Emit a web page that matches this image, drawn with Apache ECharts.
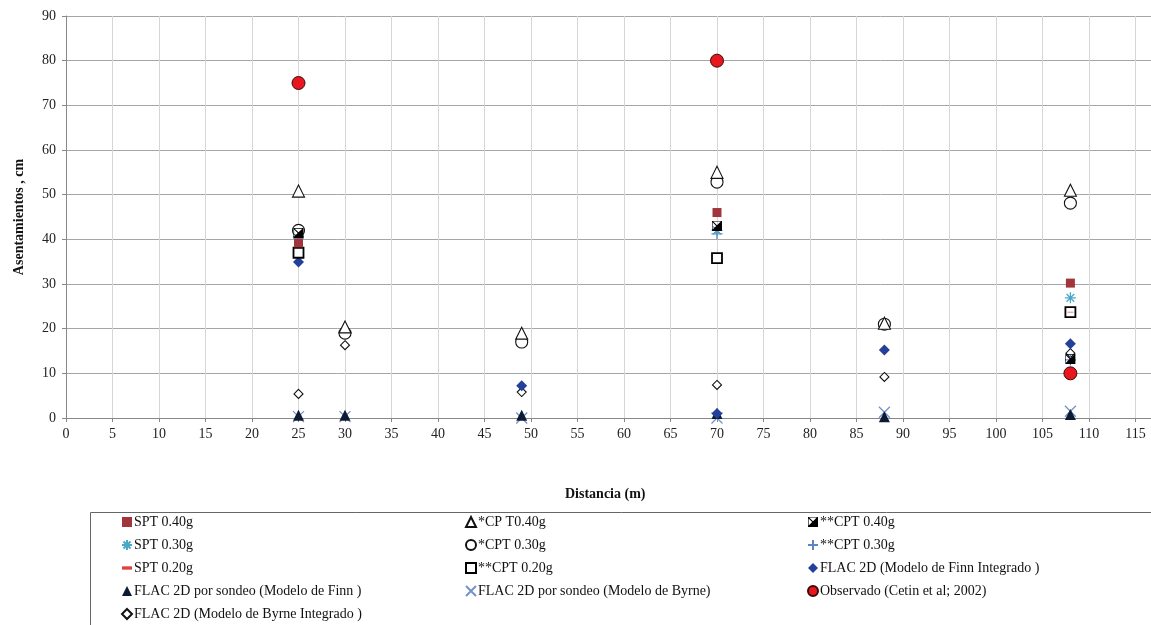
<!DOCTYPE html>
<html>
<head>
<meta charset="utf-8">
<script src="https://cdn.jsdelivr.net/npm/echarts@6/dist/echarts.min.js"></script>
<style>
html,body{margin:0;padding:0;background:#fff;overflow:hidden;}
#chart{width:1151px;height:625px;}
</style>
</head>
<body>
<div id="chart"></div>
<script>
// ---- data ----
const distancias = [25, 30, 49, 70, 88, 108];
const spt040      = [39.2, null, null, 46, null, 30.2];
const cpt040a     = [50.8, 20.4, 19, 55, 21.2, 51];
const cpt040b     = [41.4, null, null, 43, null, 13.2];
const spt030      = [40.3, null, null, 42, null, 26.9];
const cpt030a     = [42, 19, 17, 52.8, 21, 48.1];
const cpt030b     = [40.6, null, null, 41.2, null, 13];
const spt020      = [38.5, null, null, 41.5, null, 23.7];
const cpt020b     = [37, null, null, 35.8, null, 23.7];
const finnInt     = [34.9, null, 7.2, 1, 15.2, 16.6];
const finnSondeo  = [0.6, 0.6, 0.6, 1, 0.3, 0.8];
const byrneSondeo = [0.3, 0.3, 0, 0, 1.3, 1.5];
const observado   = [75, null, null, 80, null, 10];
const byrneInt    = [5.4, 16.3, 5.8, 7.4, 9.2, 14.5];
const yTicks = [0, 10, 20, 30, 40, 50, 60, 70, 80, 90];

const names = {
  spt040: 'SPT 0.40g',
  cpt040a: '*CP T0.40g',
  cpt040b: '**CPT 0.40g',
  spt030: 'SPT 0.30g',
  cpt030a: '*CPT 0.30g',
  cpt030b: '**CPT 0.30g',
  spt020: 'SPT 0.20g',
  cpt020b: '**CPT 0.20g',
  finnInt: 'FLAC 2D (Modelo de Finn Integrado )',
  finnSondeo: 'FLAC 2D por sondeo (Modelo de Finn )',
  byrneSondeo: 'FLAC 2D por sondeo (Modelo de Byrne)',
  observado: 'Observado (Cetin et al; 2002)',
  byrneInt: 'FLAC 2D (Modelo de Byrne Integrado )'
};

function pts(vals) {
  const out = [];
  vals.forEach((v, i) => { if (v !== null) out.push([distancias[i], v]); });
  return out;
}

const FONT = '"Liberation Serif", "Times New Roman", serif';

function mk(name, vals, symbol, size, itemStyle) {
  itemStyle.opacity = 1;
  return {
    name: name, type: 'scatter', data: pts(vals),
    symbol: symbol, symbolSize: size, symbolKeepAspect: true,
    itemStyle: itemStyle, emphasis: {disabled: true}, z: 3
  };
}

const P_ASTER = 'path://M0,5L10,5M5,0L5,10M1.5,1.5L8.5,8.5M8.5,1.5L1.5,8.5';
const P_PLUS = 'path://M0,5L10,5M5,0L5,10';
const P_X = 'path://M0,0L10,10M10,0L0,10';
const P_DASH = 'path://M0,0L6,0L6,2L0,2Z';
const P_BOW = 'path://M0,0L10,0L10,10L0,10ZM1.2,0.6L5,4.2L8.8,0.6ZM1.2,9.4L5,5.8L8.8,9.4ZM0.6,1.4L0.6,8.6L4.2,5ZM9.4,1.4L9.4,8.6L5.8,5Z';

const series = [
  mk(names.byrneSondeo, byrneSondeo, P_X, 11, {color: 'transparent', borderColor: '#7493c8', borderWidth: 1.3}),
  mk(names.finnSondeo, finnSondeo, 'triangle', 11, {color: '#0d1a33'}),
  mk(names.byrneInt, byrneInt, 'diamond', 9, {color: '#fff', borderColor: '#111', borderWidth: 1.1}),
  mk(names.finnInt, finnInt, 'diamond', 11, {color: '#23419a'}),
  mk(names.cpt020b, cpt020b, 'rect', 10, {color: '#fff', borderColor: '#000', borderWidth: 1.8}),
  mk(names.spt020, spt020, P_DASH, [6, 2], {color: '#e04040'}),
  mk(names.cpt030b, cpt030b, P_PLUS, 11, {color: 'transparent', borderColor: '#5b86c6', borderWidth: 1.3}),
  mk(names.cpt030a, cpt030a, 'circle', 12, {color: '#fff', borderColor: '#111', borderWidth: 1.1}),
  mk(names.spt030, spt030, P_ASTER, 11, {color: 'transparent', borderColor: '#4aa7c6', borderWidth: 1.3}),
  mk(names.cpt040b, cpt040b, P_BOW, 10, {color: '#000'}),
  mk(names.cpt040a, cpt040a, 'triangle', 12, {color: '#fff', borderColor: '#111', borderWidth: 1.1}),
  mk(names.spt040, spt040, 'rect', 9, {color: '#a0363b'}),
  mk(names.observado, observado, 'circle', 13, {color: '#e8161e', borderColor: '#3a0a0a', borderWidth: 1})
];

function legend(left, items) {
  return {
    orient: 'vertical', left: left, top: 515, height: 110, padding: 0,
    itemWidth: 10, itemHeight: 10, itemGap: 9,
    selectedMode: false,
    textStyle: {fontFamily: FONT, fontSize: 14, color: '#111', padding: [0, 0, 0, -3]},
    data: items
  };
}

const chart = echarts.init(document.getElementById('chart'), null, {renderer: 'canvas'});
chart.setOption({
  animation: false,
  backgroundColor: '#fff',
  grid: {left: 66, width: 1116, top: 16, height: 402, containLabel: false, outerBoundsMode: 'none'},
  xAxis: {
    type: 'value', min: 0, max: 120, interval: 5,
    axisLine: {show: true, onZero: false, lineStyle: {color: '#888', width: 1}},
    axisTick: {show: true, length: 4, lineStyle: {color: '#888'}},
    axisLabel: {fontFamily: FONT, fontSize: 14, color: '#222', margin: 9},
    splitLine: {show: true, lineStyle: {color: '#d6d6d6', width: 1}}
  },
  yAxis: {
    type: 'value', min: yTicks[0], max: yTicks[yTicks.length - 1], interval: 10,
    name: 'Asentamientos , cm', nameLocation: 'middle', nameGap: 40,
    nameTextStyle: {fontFamily: FONT, fontSize: 14, fontWeight: 'bold', color: '#111'},
    axisLine: {show: true, lineStyle: {color: '#888', width: 1}},
    axisTick: {show: true, length: 4, lineStyle: {color: '#888'}},
    axisLabel: {fontFamily: FONT, fontSize: 14, color: '#222', margin: 10},
    splitLine: {show: true, lineStyle: {color: '#a6a6a6', width: 1}}
  },
  legend: [
    legend(121, [names.spt040, names.spt030, names.spt020, names.finnSondeo, names.byrneInt]),
    legend(465, [names.cpt040a, names.cpt030a, names.cpt020b, names.byrneSondeo]),
    legend(807, [names.cpt040b, names.cpt030b, names.finnInt, names.observado])
  ],
  graphic: [
    {type: 'rect', left: 88, top: 510, shape: {width: 1100, height: 140},
     style: {fill: 'none', stroke: '#666', lineWidth: 1}, z: -1},
    {type: 'text', left: 565, top: 487,
     style: {text: 'Distancia (m)', font: 'bold 14px ' + FONT, fill: '#111'}}
  ],
  series: series
});
</script>
</body>
</html>
